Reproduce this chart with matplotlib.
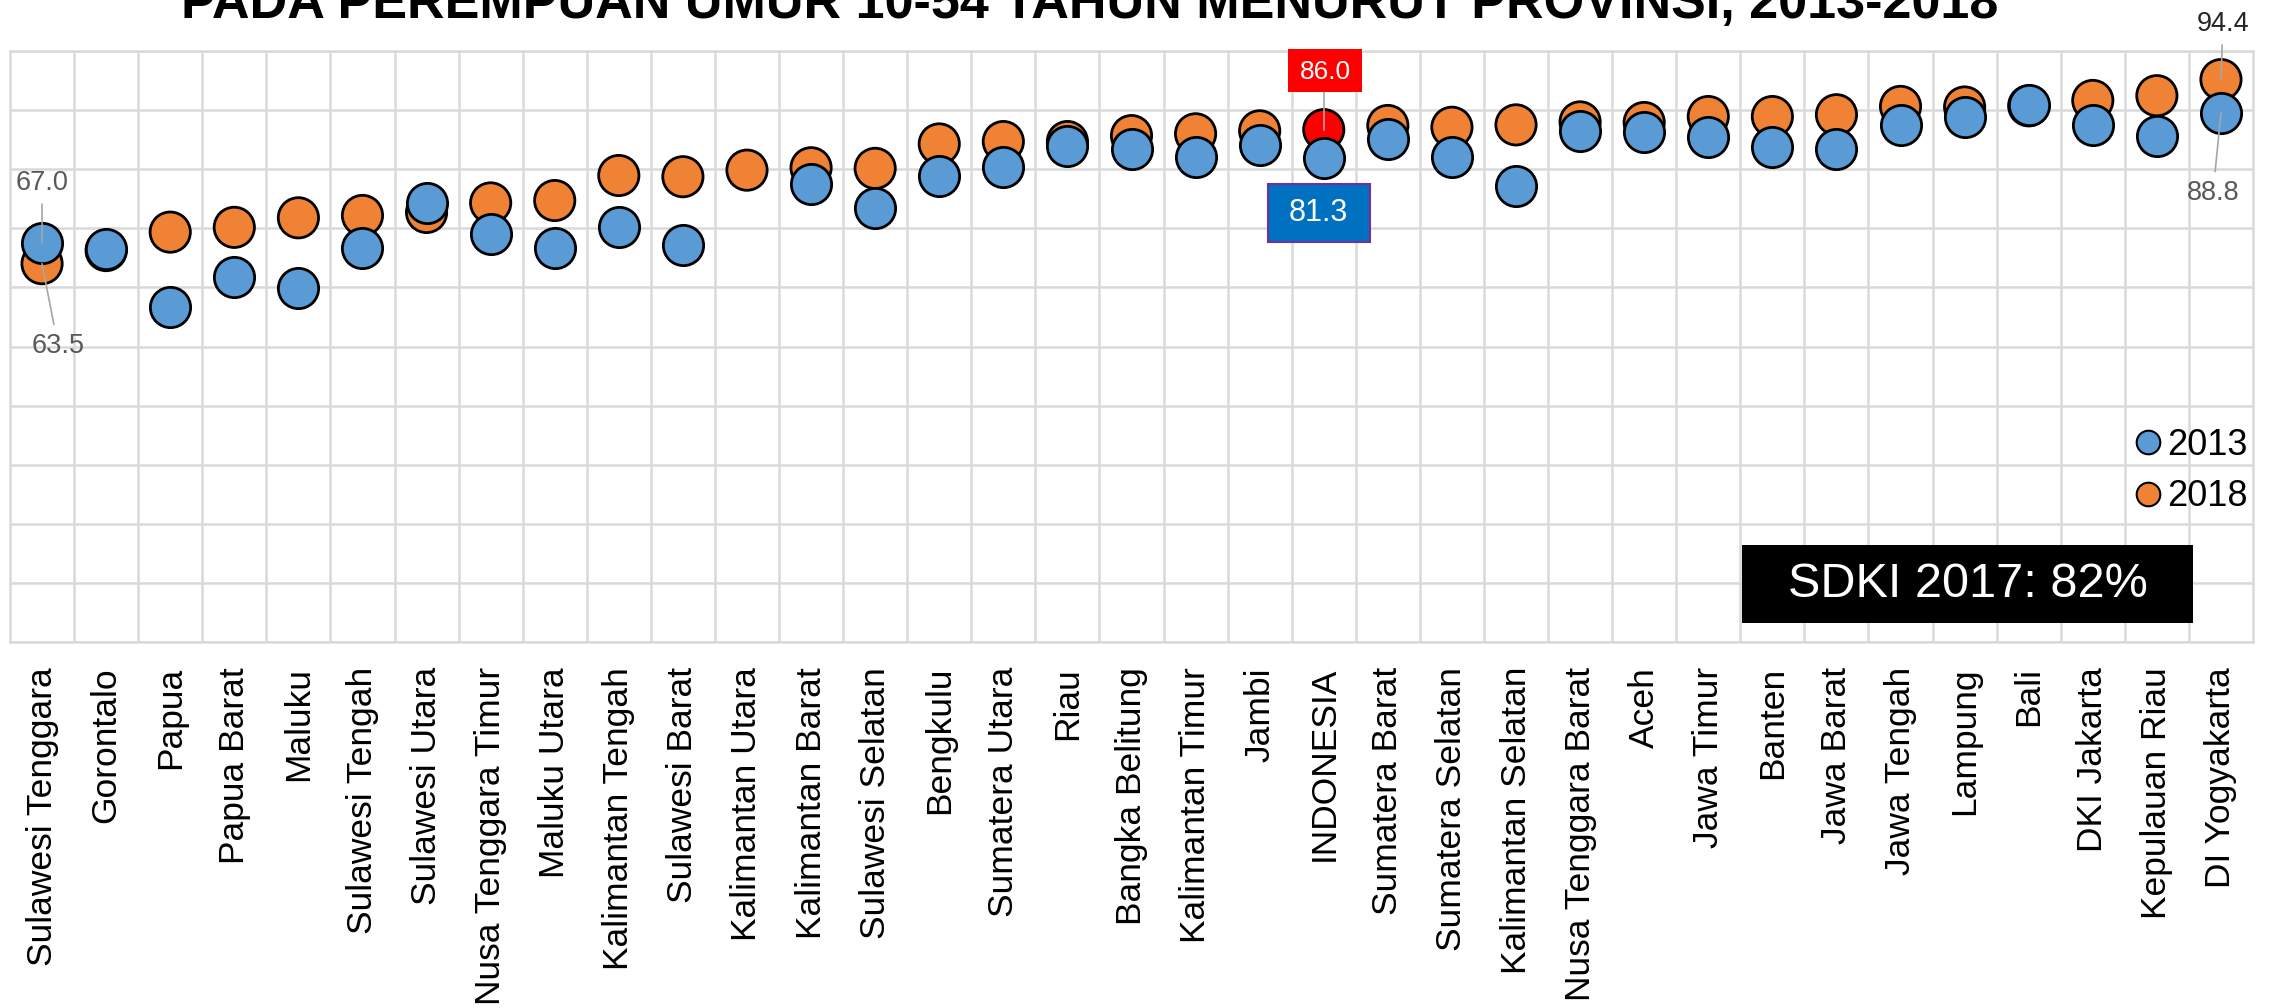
import numpy as np
import matplotlib
matplotlib.use("Agg")
import matplotlib.pyplot as plt
from matplotlib.lines import Line2D
from matplotlib.patches import Rectangle

provinces = [
    "Sulawesi Tenggara", "Gorontalo", "Papua", "Papua Barat", "Maluku",
    "Sulawesi Tengah", "Sulawesi Utara", "Nusa Tenggara Timur", "Maluku Utara",
    "Kalimantan Tengah", "Sulawesi Barat", "Kalimantan Utara", "Kalimantan Barat",
    "Sulawesi Selatan", "Bengkulu", "Sumatera Utara", "Riau", "Bangka Belitung",
    "Kalimantan Timur", "Jambi", "INDONESIA", "Sumatera Barat", "Sumatera Selatan",
    "Kalimantan Selatan", "Nusa Tenggara Barat", "Aceh", "Jawa Timur", "Banten",
    "Jawa Barat", "Jawa Tengah", "Lampung", "Bali", "DKI Jakarta",
    "Kepulauan Riau", "DI Yogyakarta",
]
val_2013 = [
    67.0, 66.0, 56.3, 61.3, 59.5, 66.2, 73.7, 68.4, 66.2, 69.6, 66.6, np.nan,
    76.9, 72.8, 78.2, 79.8, 83.2, 82.8, 81.4, 83.5, 81.3, 84.4, 81.4, 76.5,
    85.7, 85.6, 84.7, 83.1, 82.8, 86.8, 88.1, 90.2, 86.8, 84.9, 88.8,
]
val_2018 = [
    63.5, 65.7, 68.8, 69.6, 71.2, 71.6, 72.1, 73.7, 74.1, 78.3, 78.1, 79.2,
    79.6, 79.5, 83.6, 84.0, 84.0, 85.0, 85.3, 85.8, 86.0, 86.7, 86.4, 86.8,
    87.3, 87.2, 88.2, 88.2, 88.5, 89.9, 89.8, 90.0, 90.9, 91.7, 94.4,
]
title = "PADA PEREMPUAN UMUR 10-54 TAHUN MENURUT PROVINSI, 2013-2018"
note = "SDKI 2017: 82%"

BLUE = "#5B9BD5"
ORANGE = "#EF8234"
GRID = "#D9D9D9"
LABEL_GREY = "#595959"
SANS = ["Liberation Sans", "DejaVu Sans"]

x = np.arange(len(provinces))
nat = provinces.index("INDONESIA")
colors_2018 = ["#FF0000" if p == "INDONESIA" else ORANGE for p in provinces]

fig = plt.figure(figsize=(22.82, 10.08), dpi=100)
ax = fig.add_axes([10 / 2282, 1 - 642 / 1008, 2243 / 2282, 591 / 1008])

ymax = 99.2
ax.set_xlim(-0.5, len(provinces) - 0.5)
ax.set_ylim(0, ymax)
ax.set_yticks(np.linspace(0, ymax, 11))
ax.set_yticklabels([])
ax.set_xticks(x)
ax.set_xticks(x[:-1] + 0.5, minor=True)
ax.set_xticklabels(provinces, rotation=90, fontsize=25.5, family=SANS)
ax.tick_params(axis="both", which="both", length=0)
ax.tick_params(axis="x", pad=18)
ax.grid(axis="y", which="major", color=GRID, lw=1.8)
ax.grid(axis="x", which="minor", color=GRID, lw=1.8)
ax.set_axisbelow(True)
for s in ax.spines.values():
    s.set_color(GRID)
    s.set_linewidth(1.8)

ms = 29
ax.scatter(x, val_2018, s=ms ** 2, c=colors_2018, edgecolors="black",
           linewidths=2.0, zorder=3)
ax.scatter(x, val_2013, s=ms ** 2, c=BLUE, edgecolors="black",
           linewidths=2.0, zorder=5)

# data labels with leader lines
line_kw = dict(arrowstyle="-", color="#A6A6A6", lw=1.2, shrinkA=4, shrinkB=0)
lab_kw = dict(textcoords="offset pixels", ha="center", va="center",
              fontsize=19.5, family=SANS, color=LABEL_GREY, zorder=6,
              annotation_clip=False)
ax.annotate(f"{val_2013[0]:.1f}", (0, val_2013[0]), xytext=(0, 60),
            arrowprops=line_kw, **lab_kw)
ax.annotate(f"{val_2018[0]:.1f}", (0, val_2018[0]), xytext=(16, -82),
            arrowprops=line_kw, **lab_kw)
last = len(provinces) - 1
ax.annotate(f"{val_2018[last]:.1f}", (last, val_2018[last]), xytext=(2, 56),
            arrowprops=line_kw, **{**lab_kw, "color": "#262626"})
ax.annotate(f"{val_2013[last]:.1f}", (last, val_2013[last]), xytext=(-8, -80),
            arrowprops=line_kw, **lab_kw)

# national value boxes
ax.add_patch(Rectangle((nat - 0.56, 92.3), 1.16, 7.2, fc="#FF0000", ec="none",
                       clip_on=False, zorder=6))
ax.text(nat + 0.02, 95.6, f"{val_2018[nat]:.1f}", ha="center", va="center",
        color="white", fontsize=19, family=SANS, zorder=7)
ax.plot([nat, nat], [92.3, val_2018[nat]], color="#A6A6A6", lw=1.2, zorder=4)

ax.add_patch(Rectangle((nat - 0.87, 67.1), 1.59, 9.8, fc="#0070C0",
                       ec="#7030A0", lw=1.5, zorder=6))
ax.text(nat - 0.08, 72.0, f"{val_2013[nat]:.1f}", ha="center", va="center",
        color="white", fontsize=22, family=SANS, zorder=7)

# SDKI note
ax.add_patch(Rectangle((0.7722, 0.0321), 0.2011, 0.132, transform=ax.transAxes,
                       fc="black", ec="none", zorder=6))
ax.text(0.8727, 0.097, note, transform=ax.transAxes, ha="center", va="center",
        color="white", fontsize=35, family=SANS, zorder=7)

handles = [
    Line2D([], [], marker="o", ls="none", ms=17, mfc=BLUE, mec="black", mew=1.5),
    Line2D([], [], marker="o", ls="none", ms=17, mfc=ORANGE, mec="black", mew=1.5),
]
fig.legend(handles, ["2013", "2018"], loc="upper right",
           bbox_to_anchor=(2248 / 2282, 1 - 428 / 1008), frameon=False,
           prop={"family": SANS, "size": 26}, handlelength=0.7,
           handletextpad=0.2, labelspacing=0.45, borderpad=0, borderaxespad=0)

fig.text(1090 / 2282, 1 - 18 / 1008, title, ha="center", va="baseline",
         fontsize=37.5, weight="bold", family=SANS)

fig.savefig("out.png", dpi=100)
